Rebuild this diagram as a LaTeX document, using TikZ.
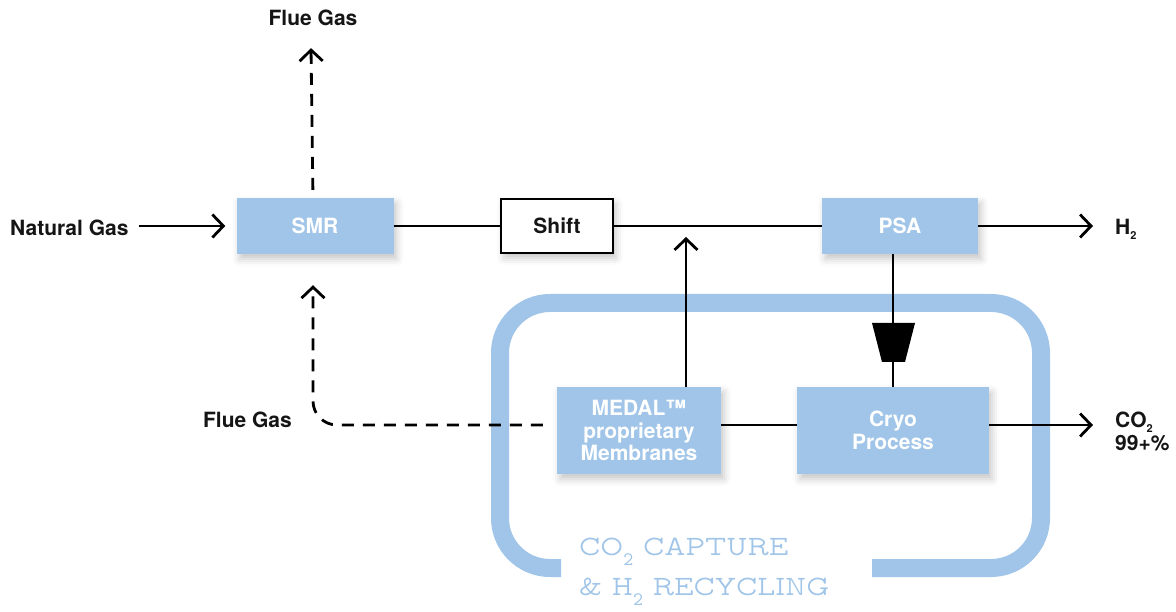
\documentclass[tikz,border=0pt]{standalone}
\usepackage{fontspec}
\setmainfont{TeX Gyre Heros}
\newfontfamily\slabfont{lmmonoprop10-regular.otf}
\usetikzlibrary{arrows.meta,shadows.blur}
\definecolor{boxblue}{HTML}{A0C5E8}
\definecolor{ink}{HTML}{151515}
\newcommand{\subtwo}{\raisebox{-0.45ex}{\fontsize{11}{11}\selectfont 2}}
\newcommand{\bigsubtwo}{\raisebox{-0.8ex}{\fontsize{19}{19}\selectfont 2}}
\tikzset{
  lbl/.style={inner sep=0pt, font=\fontsize{21}{23}\selectfont\bfseries, text=ink},
  bluebox/.style={fill=boxblue, draw=none, text=white, font=\fontsize{21}{22.5}\selectfont\bfseries, align=center,
    blur shadow={shadow xshift=3pt, shadow yshift=-5pt, shadow opacity=22, shadow blur radius=7pt}},
  whitebox/.style={fill=white, draw=black, line width=2.8pt, text=ink, font=\fontsize{21}{22}\selectfont\bfseries,
    blur shadow={shadow xshift=3pt, shadow yshift=-5pt, shadow opacity=22, shadow blur radius=7pt}},
  flow/.style={line width=2.8pt, draw=black},
  arr/.style={flow, -{Straight Barb[length=11pt, width=23pt, line width=2.8pt]}},
  dsh/.style={dash pattern=on 12pt off 9pt},
  frame/.style={draw=boxblue, line width=18pt, rounded corners=50pt, line cap=butt}
}
\begin{document}
\begin{tikzpicture}[x=1pt, y=-1pt]
\useasboundingbox (0,0) rectangle (1176,612);

% frame
\draw[frame] (561,568) -- (500,568) -- (500,303) -- (1041,303) -- (1041,568) -- (872,568);
\node[anchor=north west, inner sep=0pt, align=left, text=boxblue, font=\slabfont\fontsize{28}{40}\selectfont] (cap) at (579,538)
  {CO\bigsubtwo{} CAPTURE\\\& H\bigsubtwo{} RECYCLING};

% boxes
\node[bluebox, minimum width=157pt, minimum height=56pt] (smr) at (315,226) {SMR};
\node[whitebox, minimum width=112pt, minimum height=54pt] (shift) at (557,226) {Shift};
\node[bluebox, minimum width=156pt, minimum height=56pt] (psa) at (900,226) {PSA};
\node[bluebox, minimum width=164pt, minimum height=87pt] (medal) at (639,430.5) {MEDAL™\\proprietary\\Membranes};
\node[bluebox, minimum width=192pt, minimum height=87pt] (cryo) at (893,430.5) {Cryo\\Process};

% labels
\node[lbl, anchor=west] (ng) at (10,228) {Natural Gas};
\node[lbl] (fgtop) at (313,18) {Flue Gas};
\node[lbl, anchor=east] (fgleft) at (292,420) {Flue Gas};
\node[lbl, anchor=west] (h2) at (1115,229) {H\subtwo};
\node[lbl, anchor=west, align=left] (co2) at (1115,431) {CO\subtwo\\99+\%};

\coordinate (h2end) at (1093,226);
\coordinate (co2end) at (1093,425);
\coordinate (mtip) at (686,237);

% main flow
\draw[arr, shorten <=10pt, shorten >=11pt] (ng.east |- smr.west) -- (smr.west);
\draw[flow] (smr.east) -- (shift.west);
\draw[flow] (shift.east) -- (psa.west);
\draw[arr] (psa.east) -- (h2end);

% flue gas up
\draw[arr, dsh, shorten <=8pt] ([xshift=-2pt]smr.north) -- ([xshift=-2pt, yshift=-22pt]fgtop.south);

% medal up
\draw[arr] (mtip |- medal.north) -- (mtip);

% psa to cryo with valve
\draw[flow] (cryo.north) -- (cryo.north |- psa.south);
\fill[black] (872,323) -- (915,323) -- (905,362) -- (882,362) -- cycle;

% medal to cryo
\draw[flow] ([yshift=5.5pt]medal.east) -- ([yshift=5.5pt]cryo.west);
\draw[arr] ([yshift=5.5pt]cryo.east) -- (co2end);

% dashed recycle to SMR
\draw[arr, dsh, rounded corners=24pt, shorten <=14pt, shorten >=31pt] ([yshift=5.5pt]medal.west) -| ([xshift=-2pt]smr.south);
\end{tikzpicture}
\end{document}
